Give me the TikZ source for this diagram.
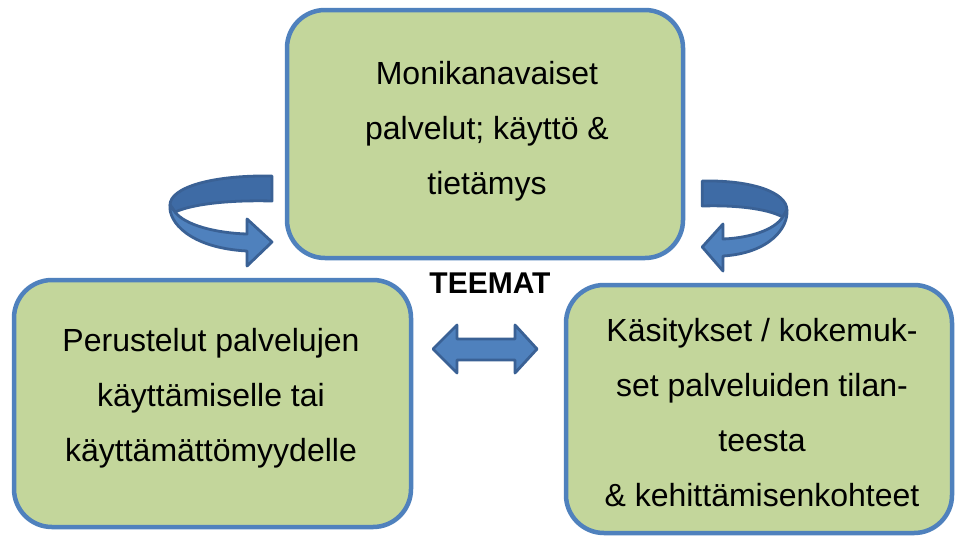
\documentclass[tikz,border=0pt]{standalone}
\usepackage{fontspec}
\setmainfont{Liberation Sans}
\definecolor{boxfill}{HTML}{C3D69B}
\definecolor{boxline}{HTML}{4F81BD}
\definecolor{arrfront}{HTML}{4F81BD}
\definecolor{arrback}{HTML}{3E6BA5}
\definecolor{arrline}{HTML}{3A6195}
\begin{document}
\begin{tikzpicture}[x=1pt,y=-1pt,
  box/.style={draw=boxline, fill=boxfill, line width=4.5pt, rounded corners=38pt, inner sep=0pt, outer sep=0pt},
  txt/.style={align=center, font=\fontsize{32}{55}\selectfont},
  arr/.style={draw=arrline, line width=2.8pt, line join=round}]
\useasboundingbox (0,0) rectangle (955,536);
\fill[white] (0,0) rectangle (955,536);
% boxes
\node[box, minimum width=396pt, minimum height=248pt] (top) at (485,134) {};
\node[box, minimum width=397pt, minimum height=247pt] (left) at (212.5,403.5) {};
\node[box, minimum width=386pt, minimum height=248pt] (right) at (759,409) {};
% texts
\node[txt] (toptext) at (487,131) {Monikanavaiset\\palvelut; käyttö \&\\tietämys};
\node[txt] (lefttext) at (211,398) {Perustelut palvelujen\\käyttämiselle tai\\käyttämättömyydelle};
\node[txt] (righttext) at (762,413) {Käsitykset / kokemuk-\\set palveluiden tilan-\\teesta\\\& kehittämisenkohteet};
\node[font=\fontsize{30}{36}\selectfont\bfseries] (teemat) at (490,283) {TEEMAT};
% left curved arrow
\path[arr, fill=arrback] (272,176) .. controls (210,175) and (170,188) .. (170,205) -- (175,212) .. controls (195,203) and (235,200) .. (272,201) -- cycle;
\path[arr, fill=arrfront] (170,205) .. controls (168,222) and (190,248) .. (247,251) -- (247,266) -- (272,242) -- (247,219) -- (247,234) .. controls (215,233) and (185,225) .. (175,212) -- cycle;
% right curved arrow (mirrored)
\begin{scope}[xshift=928pt, xscale=-0.83, yshift=-5pt]
\path[arr, fill=arrback] (272,176) .. controls (210,175) and (170,188) .. (170,205) -- (175,212) .. controls (195,203) and (235,200) .. (272,201) -- cycle;
\path[arr, fill=arrfront] (170,205) .. controls (168,222) and (190,248) .. (247,251) -- (247,266) -- (272,242) -- (247,219) -- (247,234) .. controls (215,233) and (185,225) .. (175,212) -- cycle;
\end{scope}
% double arrow
\path[arr, fill=arrfront] (433,349) -- (457,325) -- (457,339) -- (515,339) -- (515,325) -- (537,349) -- (515,373) -- (515,360) -- (457,360) -- (457,373) -- cycle;
\end{tikzpicture}
\end{document}
